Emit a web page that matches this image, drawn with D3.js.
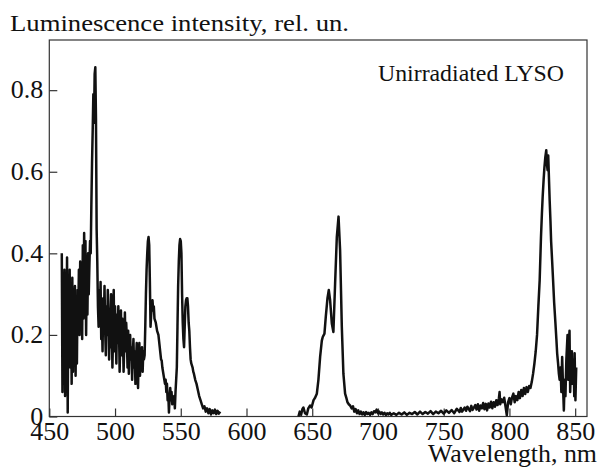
<!DOCTYPE html>
<html>
<head>
<meta charset="utf-8">
<script src="https://cdn.jsdelivr.net/npm/d3@7"></script>
<style>
  body { margin: 0; background: #fff; }
  svg text { font-family: "Liberation Serif", "DejaVu Serif", serif; fill: #111; }
</style>
</head>
<body>
<div class="canvas"></div>
<script>
// axis ticks
const xTicks = [450, 500, 550, 600, 650, 700, 750, 800, 850];
const yTicks = [0, 0.2, 0.4, 0.6, 0.8];

// spectrum, first part [wavelength nm, intensity]
const specBlue = [
  [459.5,0.40],[460,0.06],[460.5,0.33],[461,0.18],[461.5,0.36],[462,0.05],[462.5,0.30],[463,0.15],[463.5,0.39],[464,0.01],
  [464.5,0.28],[465,0.20],[465.5,0.36],[466,0.12],[466.5,0.30],[467,0.08],[467.5,0.34],[468,0.11],[468.5,0.28],[469,0.21],
  [469.5,0.32],[470,0.10],[470.5,0.25],[471,0.13],[471.5,0.31],[472,0.24],[472.5,0.36],[473,0.20],[473.5,0.38],[474,0.27],
  [474.5,0.35],[475,0.19],[475.5,0.42],[476,0.24],[476.5,0.45],[477,0.33],[477.5,0.43],[478,0.20],[478.5,0.38],[479,0.25],
  [479.5,0.40],[480,0.30],[480.5,0.37],[481,0.43],[481.5,0.40],[482,0.52],[482.5,0.62],[483,0.70],[483.5,0.79],[484,0.72],
  [484.5,0.84],[485,0.856],[485.5,0.73],[486,0.46],
  [486.5,0.38],[487,0.27],[487.5,0.22],[488,0.31],[488.5,0.25],[489,0.33],[489.5,0.19],[490,0.24],[490.5,0.16],[491,0.29],
  [491.5,0.23],[492,0.32],[492.5,0.21],[493,0.15],[493.5,0.27],[494,0.20],[494.5,0.31],[495,0.26],[495.5,0.14],[496,0.22],
  [496.5,0.17],[497,0.30],[497.5,0.24],[498,0.12],[498.5,0.20],[499,0.31],[499.5,0.16],[500,0.27],[500.5,0.21],[501,0.13],
  [501.5,0.25],[502,0.18],[502.5,0.27],[503,0.22],[503.5,0.11],[504,0.19],[504.5,0.26],[505,0.15],[505.5,0.24],[506,0.20],
  [506.5,0.11],[507,0.17],[507.5,0.255],[508,0.16],[508.5,0.23],[509,0.19],[509.5,0.12],[510,0.21],[510.5,0.105],[511,0.18],
  [511.5,0.20],[512,0.14],[512.5,0.17],[513,0.09],[513.5,0.15],[514,0.19],[514.5,0.12],[515,0.16],[515.5,0.08],[516,0.14],
  [516.5,0.18],[517,0.11],[517.5,0.07],[518,0.15],[518.5,0.18],[519,0.10],[519.5,0.16],[520,0.13],[520.5,0.17],[521,0.11],
  [521.5,0.16],[522,0.14],[522.5,0.15],
  [523,0.22],[523.5,0.30],[524,0.36],[524.5,0.40],[525,0.43],[525.5,0.44],[526,0.42],[526.5,0.33],[527,0.22],[527.5,0.25],
  [528,0.28],[528.5,0.285],[529,0.26],[529.5,0.27],[530,0.24],[531,0.23],[532,0.21],[533,0.20],[534,0.17],[535,0.14],
  [535.5,0.137],[536,0.12],[537,0.10],[538,0.08],[538.5,0.09],[539,0.06],[539.5,0.08],[540,0.04],[540.5,0.055],[541,0.01],
  [541.5,0.05],[542,0.07],[542.5,0.04],[543,0.06],[543.5,0.03],[544,0.045],[544.5,0.035],[545,0.05],[545.5,0.02],[546,0.06],
  [546.5,0.09],[547,0.12],[547.5,0.22],[548,0.32],[548.5,0.38],[549,0.42],[549.5,0.435],[550,0.43],[550.5,0.40],[551,0.30],
  [551.5,0.23],[552,0.19],[552.5,0.17],[553,0.22],[553.5,0.27],[554,0.285],[554.5,0.29],[555,0.29],[555.5,0.27],[556,0.23],
  [556.5,0.21],[557,0.17],[557.5,0.14],[558,0.13],[559,0.12],[559.5,0.11],[560,0.105],[561,0.09],[562,0.08],[563,0.065],
  [564,0.05],[565,0.04],[566,0.03],[567,0.02],[568,0.025],[569,0.012],[570,0.02],[571,0.008],[572,0.018],[573,0.005],
  [574,0.015],[575,0.008],[576,0.017],[577,0.006],[578,0.014],[579,0.007],[580,0.012]
];

// spectrum, second part (red / near-IR) [wavelength nm, intensity]
const specRed = [
  [639.5,0.0],[640.5,0.012],[641.5,0.004],[642.5,0.018],[643.3,0.022],[644.5,0.008],[645.9,0.005],[647,0.02],[648.4,0.027],[649.5,0.022],
  [651,0.04],[652,0.045],[653.5,0.056],[654.7,0.09],[656,0.146],[657.3,0.186],[658,0.195],[659.3,0.203],[660.3,0.244],[661.6,0.29],
  [662.6,0.31],[663.6,0.285],[664.9,0.228],[666.1,0.207],[667.4,0.326],[668.7,0.44],[670,0.49],[671.2,0.407],[672.5,0.22],[673.7,0.105],
  [675,0.056],[676,0.045],[676.8,0.035],[677.8,0.03],[678.8,0.027],[680,0.02],[681,0.025],[682,0.012],[683,0.018],[684,0.008],
  [685,0.015],[686,0.006],[687,0.012],[688,0.005],[689,0.01],[690,0.004],[691,0.011],[692,0.006],[693,0.009],[694,0.004],
  [695,0.01],[696,0.006],[697,0.013],[698,0.01],[699,0.017],[700,0.008],[701,0.012],[702,0.006],[703,0.01],[704,0.005],
  [705,0.009],[706,0.004],[707,0.008],[708,0.005],[709,0.009],[710,0.004],[712,0.008],[714,0.004],[716,0.009],[718,0.005],
  [720,0.01],[722,0.004],[724,0.009],[726,0.006],[728,0.011],[730,0.005],[732,0.012],[734,0.006],[736,0.011],[738,0.007],
  [740,0.013],[742,0.006],[744,0.012],[746,0.008],[748,0.014],[750,0.007],[752,0.015],[754,0.009],[756,0.016],[758,0.008],
  [760,0.019],[762,0.011],[763,0.021],[764,0.012],[766,0.022],[767,0.014],[768,0.024],[770,0.013],[771,0.026],[772,0.016],
  [774,0.028],[775,0.017],[776,0.03],[777,0.014],[778,0.027],[779,0.02],[780,0.033],[781,0.018],[782,0.031],[783,0.015],
  [784,0.032],[785,0.022],[786,0.036],[787,0.02],[788,0.035],[789,0.024],[790,0.04],[791,0.028],[792,0.045],[792.5,0.06],
  [793,0.03],[794,0.042],[795,0.035],[796,0.046],[797,0.025],[798,0.003],[799,0.035],[800,0.045],[801,0.03],[802,0.047],
  [803,0.056],[804,0.035],[805,0.05],[806,0.04],[807,0.06],[808,0.045],[809,0.065],[810,0.05],[811,0.07],[812,0.055],
  [813,0.072],[814,0.06],[815,0.075],[816,0.07],[817,0.085],[818,0.105],[819,0.13],[820,0.16],[821,0.2],[822,0.27],
  [823,0.334],[824,0.44],[824.7,0.497],[825.3,0.54],[826,0.58],[826.6,0.61],[827.3,0.636],[828,0.653],[828.5,0.62],[829,0.604],
  [829.5,0.64],[830,0.59],[830.6,0.53],[831.2,0.48],[831.7,0.43],[832.5,0.38],[833.2,0.334],[834,0.28],[835,0.228],[835.7,0.19],
  [836.3,0.155],[837,0.13],[837.6,0.105],[838.2,0.09],[838.9,0.12],[839.5,0.06],[840.1,0.146],[840.7,0.08],[841.4,0.015],[842,0.09],
  [842.6,0.05],[843.3,0.14],[844.2,0.2],[844.7,0.09],[845.2,0.17],[845.7,0.21],[846.2,0.06],[846.8,0.12],[847.5,0.16],[848,0.08],
  [848.8,0.14],[849.3,0.05],[849.6,0.155],[850.2,0.04],[850.8,0.12]
];

const sampleName = "Unirradiated LYSO";

let dims, svg, graph, x, y;

const initDims = () => {
  dims = {width: 599, height: 472, left: 49.3, right: 587, top: 40, bottom: 416.5};
};

const initSvg = () => {
  svg = d3.select('.canvas')
    .append('svg')
    .attr('width', dims.width)
    .attr('height', dims.height);
  graph = svg.append('g');
};

const initScales = () => {
  x = d3.scaleLinear().domain([450, 859]).range([dims.left, dims.right]);
  y = d3.scaleLinear().domain([0, 0.923]).range([dims.bottom, dims.top]);
};

const draw = () => {
  // frame
  graph.append('rect')
    .attr('x', dims.left).attr('y', dims.top)
    .attr('width', dims.right - dims.left)
    .attr('height', dims.bottom - dims.top)
    .attr('fill', 'none')
    .attr('stroke', '#333')
    .attr('stroke-width', 1.2);

  // axes, ticks point inward
  const xAxis = d3.axisBottom(x)
    .tickValues(xTicks)
    .tickSizeInner(-8).tickSizeOuter(0)
    .tickPadding(5);
  const gx = graph.append('g')
    .attr('transform', `translate(0,${dims.bottom})`)
    .call(xAxis);

  const yAxis = d3.axisLeft(y)
    .tickValues(yTicks)
    .tickSizeInner(-8).tickSizeOuter(0)
    .tickPadding(6)
    .tickFormat(d => d === 0 ? '0' : d3.format('.1f')(d));
  const gy = graph.append('g')
    .attr('transform', `translate(${dims.left},0)`)
    .call(yAxis);

  [gx, gy].forEach(g => {
    g.select('.domain').remove();
    g.selectAll('line').attr('stroke', '#333').attr('stroke-width', 1.2);
    g.selectAll('text').attr('font-size', 26).attr('fill', '#111')
      .style('font-family', '"Liberation Serif", serif');
  });
  gx.selectAll('text').attr('dy', '0.72em');
  gy.selectAll('text').attr('dy', '0.3em');

  // spectrum
  const line = d3.line()
    .x(d => x(d[0]))
    .y(d => y(d[1]));

  [specBlue, specRed].forEach(seg => {
    graph.append('path')
      .datum(seg)
      .attr('d', line)
      .attr('fill', 'none')
      .attr('stroke', '#111')
      .attr('stroke-width', 2.5)
      .attr('stroke-linejoin', 'round');
  });

  // labels
  svg.append('text')
    .attr('x', 10).attr('y', 31)
    .attr('font-size', 24)
    .attr('textLength', 339)
    .attr('lengthAdjust', 'spacingAndGlyphs')
    .text('Luminescence intensity, rel. un.');

  svg.append('text')
    .attr('x', 428).attr('y', 462)
    .attr('font-size', 25)
    .attr('textLength', 169)
    .attr('lengthAdjust', 'spacingAndGlyphs')
    .text('Wavelength, nm');

  svg.append('text')
    .attr('x', 378).attr('y', 81)
    .attr('font-size', 24)
    .attr('textLength', 186)
    .attr('lengthAdjust', 'spacingAndGlyphs')
    .text(sampleName);
};

initDims();
initSvg();
initScales();
draw();
</script>
</body>
</html>
